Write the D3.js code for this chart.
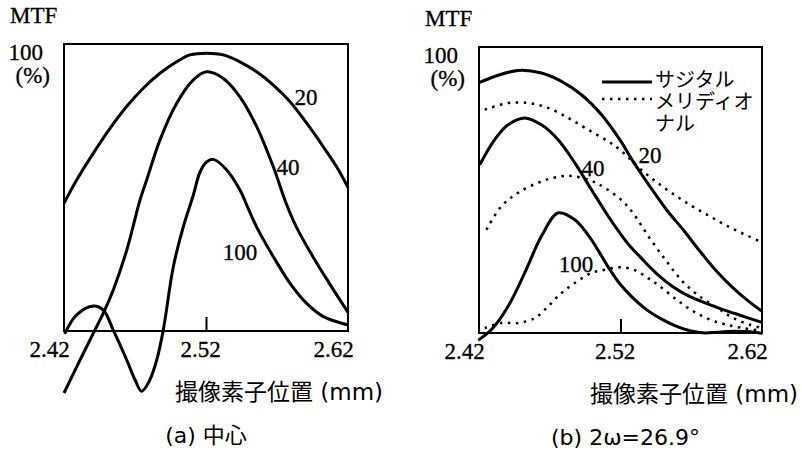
<!DOCTYPE html>
<html>
<head>
<meta charset="utf-8">
<script src="https://cdn.jsdelivr.net/npm/d3@7"></script>
<style>
  body { margin: 0; background: #fff; }
</style>
</head>
<body>
<div id="wrapper"></div>
<script>

// x: sensor position (mm), y: MTF (%)
const xTicks = [2.42, 2.52, 2.62]

// (a) centre -- 20, 40, 100 lp/mm
const centre20 = [[2.420,44.5],[2.4289,52.6],[2.4406,61.9],[2.4524,70.6],[2.4641,78.2],[2.4758,84.6],[2.4876,89.8],[2.4993,93.8],[2.5087,96.2],[2.5205,96.8],[2.5322,96.2],[2.5439,93.8],[2.5557,90.3],[2.5674,85.7],[2.5792,79.9],[2.5909,72.4],[2.6026,64.2],[2.6120,57.2],[2.6200,50.0]]
const centre40 = [[2.4200,-21.6],[2.4313,-10.1],[2.4406,-0.8],[2.4477,6.2],[2.4547,14.3],[2.4642,28.2],[2.4735,45.6],[2.4782,52.6],[2.4876,66.6],[2.4993,79.3],[2.5111,87.5],[2.5205,90.3],[2.5322,88.0],[2.5439,81.6],[2.5557,71.2],[2.5674,57.2],[2.5762,44.8],[2.5836,36.3],[2.5953,25.9],[2.6069,16.6],[2.6200,6.5]]
const centre100 = [[2.4205,-1.0],[2.4289,5.6],[2.4406,8.7],[2.4477,7.3],[2.4547,0.3],[2.4642,-10.1],[2.4700,-17.0],[2.4747,-21.0],[2.4800,-17.5],[2.4853,-10.1],[2.4899,0.3],[2.4970,22.4],[2.5040,36.3],[2.5111,47.4],[2.5158,55.4],[2.5205,58.9],[2.5251,59.8],[2.5346,56.1],[2.5439,49.1],[2.5487,43.9],[2.5556,36.3],[2.5674,25.9],[2.5792,16.6],[2.5909,9.6],[2.6027,5.0],[2.6200,2.1]]

// (b) 2w = 26.9 deg -- sagittal (solid) and meridional (dotted)
const sag20 = [[2.4205,87.6],[2.4311,89.7],[2.4476,91.8],[2.4641,90.9],[2.4783,88.0],[2.4924,83.3],[2.5066,76.3],[2.5195,67.6],[2.5289,60.0],[2.5407,51.3],[2.5525,43.1],[2.5643,36.1],[2.5761,28.6],[2.5879,21.6],[2.5997,15.7],[2.6115,10.7],[2.6200,7.6]]
const mer20 = [[2.4240,78.1],[2.4405,80.4],[2.4547,80.4],[2.4688,78.7],[2.4830,75.2],[2.4971,71.1],[2.5113,67.0],[2.5195,64.1],[2.5360,56.5],[2.5478,51.9],[2.5596,47.8],[2.5714,44.1],[2.5832,40.8],[2.5950,37.5],[2.6068,34.7],[2.6200,31.7]]
const sag40 = [[2.4205,58.8],[2.4311,67.6],[2.4405,72.8],[2.4523,75.2],[2.4641,72.8],[2.4759,67.6],[2.4877,59.5],[2.4995,50.1],[2.5111,41.0],[2.5195,35.0],[2.5260,30.8],[2.5337,26.7],[2.5457,20.7],[2.5570,16.2],[2.5691,12.7],[2.5811,10.3],[2.5924,8.2],[2.6045,6.2],[2.6200,3.7]]
const mer40 = [[2.4252,36.1],[2.4358,44.3],[2.4476,49.0],[2.4641,53.0],[2.4783,54.8],[2.4877,54.8],[2.4995,53.2],[2.5054,51.8],[2.5195,47.0],[2.5287,42.0],[2.5408,33.0],[2.5528,24.9],[2.5641,17.9],[2.5762,12.7],[2.5882,8.9],[2.5995,5.3],[2.6115,2.9],[2.6200,1.7]]
const sag100 = [[2.4195,-2.5],[2.4288,1.2],[2.4405,9.3],[2.4523,21.0],[2.4641,33.8],[2.4759,42.0],[2.4877,39.6],[2.4995,32.6],[2.5111,23.2],[2.5195,17.2],[2.5287,12.3],[2.5386,8.1],[2.5478,5.2],[2.5584,2.6],[2.5690,0.8],[2.5796,0.0],[2.5882,0.3],[2.5995,0.6],[2.6115,0.4],[2.6200,-0.2]]
const mer100 = [[2.4240,1.7],[2.4358,3.5],[2.4476,3.5],[2.4594,5.2],[2.4688,9.3],[2.4783,14.0],[2.4877,17.5],[2.4995,21.0],[2.5089,22.1],[2.5195,23.0],[2.5300,22.0],[2.5400,19.0],[2.5478,16.3],[2.5596,11.7],[2.5714,7.6],[2.5832,4.7],[2.5950,2.9],[2.6068,1.7],[2.6200,0.8]]

// curve labels [text, x, y] in data units
const centreLabels = [["20", 2.5904, 81.5], ["40", 2.5777, 57.1], ["100", 2.5439, 27.5]]
const offAxisLabels = [["20", 2.5408, 62.2], ["40", 2.5006, 57.7], ["100", 2.4886, 24.1]]

const legendLabels = ["サジタル", "メリディオ", "ナル"]

const serif = "'Liberation Serif', 'Times New Roman', serif"
const sans = "'DejaVu Sans', 'Noto Sans CJK JP', sans-serif"

const svg = d3.select("#wrapper")
  .append("svg")
    .attr("width", 802)
    .attr("height", 454)

// serif numbers in the scan look heavier, so give them a thin outline
function serifText(sel) {
  sel.style("font-family", serif)
    .style("font-size", "23px")
    .attr("fill", "#000")
    .attr("stroke", "#000")
    .attr("stroke-width", 0.3)
}

function drawPanel(opts) {
  const g = svg.append("g")
    .attr("transform", `translate(${opts.left}, ${opts.top})`)

  const x = d3.scaleLinear()
    .domain([xTicks[0], xTicks[xTicks.length - 1]])
    .range([0, opts.width])
  const y = d3.scaleLinear()
    .domain([0, 100])
    .range([opts.height, 0])

  // frame
  g.append("rect")
    .attr("width", opts.width)
    .attr("height", opts.height)
    .attr("fill", "none")
    .attr("stroke", "#000")
    .attr("stroke-width", 2)

  // x axis: labels plus one inner tick at the middle
  g.append("g")
    .attr("transform", `translate(0, ${opts.height})`)
    .call(d3.axisBottom(x)
      .tickValues(xTicks)
      .tickSizeInner(-14)
      .tickSizeOuter(0)
      .tickPadding(0)
      .tickFormat(d3.format(".2f")))
    .call(g => g.select(".domain").remove())
    .call(g => g.selectAll(".tick line")
      .attr("stroke", "#000")
      .attr("stroke-width", 2)
      .attr("stroke-opacity", (d, i) => i === 1 ? 1 : 0))
    .call(g => g.selectAll(".tick text")
      .attr("y", 26)
      .attr("dy", 0)
      .attr("dx", (d, i) => i === 1 ? -6 : -15)
      .call(serifText))

  // y labels
  g.append("text")
    .attr("x", -54).attr("y", -21)
    .call(serifText)
    .text("MTF")
  g.append("text")
    .attr("x", -21).attr("y", 16)
    .attr("text-anchor", "end")
    .call(serifText)
    .text("100")
  g.append("text")
    .attr("x", -14).attr("y", 39)
    .attr("text-anchor", "end")
    .call(serifText)
    .text("(%)")

  // axis title and caption
  g.append("text")
    .attr("x", 111).attr("y", opts.height + 69)
    .style("font-family", sans).style("font-size", "23px")
    .text("撮像素子位置 (mm)")
  g.append("text")
    .attr("x", opts.width / 2 + opts.captionDx).attr("y", opts.height + 112)
    .attr("text-anchor", "middle")
    .style("font-family", sans).style("font-size", "22px")
    .text(opts.caption)

  const line = d3.line()
    .x(d => x(d[0]))
    .y(d => y(d[1]))
    .curve(d3.curveCatmullRom)

  opts.solid.forEach(s => {
    g.append("path")
      .attr("d", line(s))
      .attr("fill", "none")
      .attr("stroke", "#000")
      .attr("stroke-width", 3)
  })
  opts.dotted.forEach(s => {
    g.append("path")
      .attr("d", line(s))
      .attr("fill", "none")
      .attr("stroke", "#000")
      .attr("stroke-width", 2.5)
      .attr("stroke-dasharray", "2.5,5.5")
  })

  g.selectAll(".curve-label")
    .data(opts.labels)
    .join("text")
      .attr("class", "curve-label")
      .attr("x", d => x(d[1]))
      .attr("y", d => y(d[2]))
      .attr("dy", "0.35em")
      .attr("text-anchor", "middle")
      .call(serifText)
      .text(d => d[0])

  return g
}

drawPanel({
  left: 64, top: 44, width: 284, height: 287,
  solid: [centre20, centre40, centre100], dotted: [],
  labels: centreLabels,
  caption: "(a) 中心", captionDx: 0,
})

const right = drawPanel({
  left: 479, top: 47, width: 283, height: 286,
  solid: [sag20, sag40, sag100], dotted: [mer20, mer40, mer100],
  labels: offAxisLabels,
  caption: "(b) 2ω=26.9°", captionDx: 5,
})

// legend
const legend = right.append("g")
  .attr("transform", "translate(123, 35)")
legend.append("line")
  .attr("x1", 0).attr("x2", 50)
  .attr("stroke", "#000").attr("stroke-width", 3)
legend.append("line")
  .attr("x1", 0).attr("x2", 50)
  .attr("y1", 17).attr("y2", 17)
  .attr("stroke", "#000").attr("stroke-width", 2.5)
  .attr("stroke-dasharray", "2.5,5.5")
legend.append("text")
    .style("font-family", sans)
    .style("font-size", "20px")
  .selectAll("tspan")
  .data(legendLabels)
  .join("tspan")
    .attr("x", 53)
    .attr("y", (d, i) => 5 + i * 22)
    .text(d => d)

</script>
</body>
</html>
